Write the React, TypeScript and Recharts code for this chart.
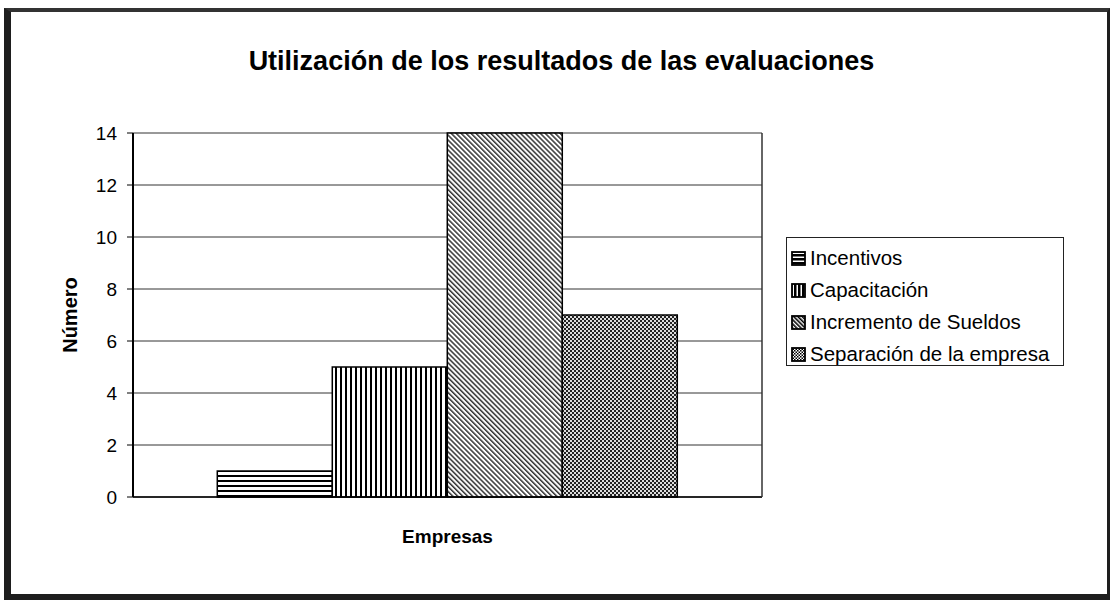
import React from 'react';
import { BarChart, Bar, XAxis, YAxis, CartesianGrid, Legend } from 'recharts';

const categories = ['Empresas'];
const seriesNames = ['Incentivos', 'Capacitación', 'Incremento de Sueldos', 'Separación de la empresa'];
const incentivos = [1];
const capacitacion = [5];
const incremento = [14];
const separacion = [7];
const yTicks = [0, 2, 4, 6, 8, 10, 12, 14];
const titleText = 'Utilización de los resultados de las evaluaciones';
const yLabel = 'Número';

const data = categories.map((c, i) => ({
  name: c,
  incentivos: incentivos[i],
  capacitacion: capacitacion[i],
  incremento: incremento[i],
  separacion: separacion[i],
}));

const FONT = '"Liberation Sans", Arial, Helvetica, sans-serif';

const seriesKeys = ['incentivos', 'capacitacion', 'incremento', 'separacion'];
const patternIds = ['pH', 'pV', 'pD', 'pC'];

const renderYLabel = (p: any) => {
  const vb = p.viewBox || { x: 73, y: 133, width: 60, height: 364 };
  const cx = vb.x - 3;
  const cy = vb.y + vb.height / 2;
  return (
    <text
      x={cx}
      y={cy}
      transform={`rotate(-90 ${cx} ${cy})`}
      textAnchor="middle"
      dominantBaseline="central"
      style={{ fontFamily: FONT, fontSize: 20, fontWeight: 'bold', fill: '#000' }}
    >
      {yLabel}
    </text>
  );
};

const renderLegend = () => (
  <div
    style={{
      border: '1.5px solid #222',
      boxSizing: 'border-box',
      width: 278,
      height: 129,
      background: '#fff',
      paddingTop: 4,
      paddingLeft: 4,
      fontFamily: FONT,
      fontSize: 20.5,
      color: '#000',
    }}
  >
    {seriesNames.map((name, i) => (
      <div key={name} style={{ display: 'flex', alignItems: 'center', height: 32, whiteSpace: 'nowrap' }}>
        <svg width={15} height={15} style={{ marginRight: 4, flex: 'none' }}>
          <rect x={1} y={1} width={13} height={13} fill={`url(#${patternIds[i]}s)`} stroke="#000" strokeWidth={1.8} />
        </svg>
        <span>{name}</span>
      </div>
    ))}
  </div>
);

export default function App() {
  return (
    <div style={{ position: 'absolute', left: 0, top: 0, width: 1112, height: 602, background: '#fff', overflow: 'hidden' }}>
      <style>{`html,body{margin:0;padding:0;overflow:hidden;}`}</style>
      <svg width={0} height={0} style={{ position: 'absolute' }}>
        <defs>
          <pattern id="pH" width="6" height="5" patternUnits="userSpaceOnUse">
            <rect width="6" height="5" fill="#fff" />
            <rect y="0" width="6" height="2" fill="#000" />
          </pattern>
          <pattern id="pV" width="5" height="6" patternUnits="userSpaceOnUse">
            <rect width="5" height="6" fill="#fff" />
            <rect x="0" width="2" height="6" fill="#000" />
          </pattern>
          <pattern id="pD" width="3.5" height="4" patternUnits="userSpaceOnUse" patternTransform="rotate(-45)">
            <rect width="3.5" height="4" fill="#fff" />
            <rect x="0" width="1.5" height="4" fill="#333" />
          </pattern>
          <pattern id="pC" width="4" height="4" patternUnits="userSpaceOnUse">
            <rect width="4" height="4" fill="#ddd" />
            <rect x="0" y="0" width="2" height="2" fill="#222" />
            <rect x="2" y="2" width="2" height="2" fill="#222" />
          </pattern>
          <pattern id="pHs" width="4" height="4" patternUnits="userSpaceOnUse">
            <rect width="4" height="4" fill="#000" />
            <rect y="1.5" width="4" height="1.5" fill="#fff" />
          </pattern>
          <pattern id="pVs" width="4" height="4" patternUnits="userSpaceOnUse">
            <rect width="4" height="4" fill="#000" />
            <rect x="1.5" width="1.5" height="4" fill="#fff" />
          </pattern>
          <pattern id="pDs" width="3" height="3" patternUnits="userSpaceOnUse" patternTransform="rotate(-45)">
            <rect width="3" height="3" fill="#fff" />
            <rect x="0" width="1.6" height="3" fill="#000" />
          </pattern>
          <pattern id="pCs" width="3" height="3" patternUnits="userSpaceOnUse">
            <rect width="3" height="3" fill="#fff" />
            <rect x="0" y="0" width="1.5" height="1.5" fill="#000" />
            <rect x="1.5" y="1.5" width="1.5" height="1.5" fill="#000" />
          </pattern>
        </defs>
      </svg>

      <div
        style={{
          position: 'absolute',
          left: 0,
          top: 46,
          width: 1123,
          textAlign: 'center',
          fontFamily: FONT,
          fontWeight: 'bold',
          fontSize: 27,
          lineHeight: '30px',
          color: '#000',
        }}
      >
        {titleText}
      </div>

      <div style={{ position: 'absolute', left: 0, top: 0 }}>
        <BarChart
          width={1112}
          height={602}
          data={data}
          margin={{ top: 133, right: 349, bottom: 55, left: 73 }}
          barCategoryGap="13.4%"
          barGap={0}
        >
          <CartesianGrid yAxisId="l" vertical={false} stroke="#333" strokeWidth={1} />
          <XAxis
            dataKey="name"
            tick={false}
            tickLine={false}
            axisLine={{ stroke: '#000', strokeWidth: 1.5 }}
            height={50}
            label={{
              value: categories[0],
              position: 'insideBottom',
              offset: 4,
              style: { fontFamily: FONT, fontSize: 19, fontWeight: 'bold', fill: '#000' },
            }}
          />
          <YAxis
            yAxisId="l"
            width={60}
            domain={[0, 14]}
            ticks={yTicks}
            interval={0}
            tickSize={6}
            tickMargin={10}
            axisLine={{ stroke: '#000', strokeWidth: 2 }}
            tickLine={{ stroke: '#000' }}
            tick={{ fill: '#000', fontSize: 19, fontFamily: FONT }}
            label={renderYLabel}
          />
          <YAxis
            yAxisId="r"
            orientation="right"
            width={1}
            domain={[0, 14]}
            tick={false}
            tickLine={false}
            axisLine={{ stroke: '#333', strokeWidth: 1.5 }}
          />
          <Legend
            layout="vertical"
            align="center"
            verticalAlign="middle"
            content={renderLegend}
            wrapperStyle={{ position: 'absolute', left: 786, top: 237, width: 278, height: 129 }}
          />
          {seriesKeys.map((k, i) => (
            <Bar
              key={k}
              yAxisId="l"
              dataKey={k}
              name={seriesNames[i]}
              fill={`url(#${patternIds[i]})`}
              stroke="#000"
              strokeWidth={1.5}
              isAnimationActive={false}
            />
          ))}
        </BarChart>
      </div>

      <div
        style={{
          position: 'absolute',
          left: 4,
          top: 8,
          width: 1106,
          height: 592,
          boxSizing: 'border-box',
          borderLeft: '7px solid #1e1e1e',
          borderTop: '4px solid #333',
          borderRight: '3px solid #1e1e1e',
          borderBottom: '6px solid #1e1e1e',
          pointerEvents: 'none',
        }}
      />
    </div>
  );
}
